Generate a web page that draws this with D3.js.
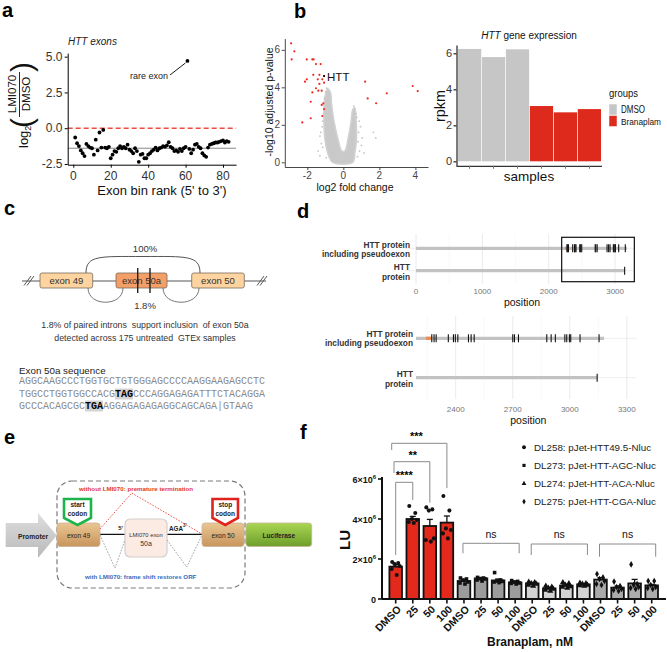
<!DOCTYPE html>
<html><head><meta charset="utf-8">
<script src="https://cdn.jsdelivr.net/npm/d3@7"></script>
<style>body{margin:0;background:#fff}svg{display:block}text{white-space:pre}</style>
</head><body><svg id="c" width="667" height="652"></svg>
<script>
// ================= DATA =================
// panel a
const exonBinLog2FC=[-0.65,-1.05,-1.25,-1.55,-1.75,-1.95,-1.1,-1.25,-1.35,-1.4,-1.85,-0.8,-1.55,-0.3,-1.35,-0.12,-1.35,-1.4,-1.3,-2.1,
-1.85,-1.6,-1.65,-1.4,-1.25,-1.4,-1.3,-1.4,-1.15,-1.5,-1.6,-1.75,-1.4,-1.6,-2.35,-1.85,-1.8,-2.1,-2.1,-1.85,
-1.75,-1.6,-1.5,-1.35,-1.55,-1.4,-1.35,-1.25,-1.3,-1.2,-0.98,-1.3,-1.4,-1.6,-1.55,-1.65,-1.45,-1.6,-1.4,-1.3,
4.7,-1.45,-1.75,-1.5,-1.15,-1.1,-1.3,-1.4,-1.75,-1.9,-2.0,-1.35,-1.15,-1.1,-1.05,-1.0,-1.0,-0.95,-0.9,-0.85,-1.0,-0.9,-0.95];
const exonXTicks=[0,20,40,60,80];
const exonYTicks=[-2.5,0,2.5,5];
const exonYTickLabels=["-2.5","0.0","2.5","5.0"];
const exonMedian=-1.4;
const rareExonLabel="rare exon";
// panel b volcano  [log2FC, -log10 padj]
const volcanoRed=[[-2.9,6.35],[-2.72,5.92],[-2.87,5.49],[-2.03,5.49],[-1.72,5.49],[-1.65,5.49],[-1.52,5.24],[-1.26,5.24],
[-1.67,4.67],[-1.33,4.67],[-1.07,4.6],[-2.03,4.43],[-2.13,4.3],[-1.42,4.43],[-1.17,4.43],[-1.33,4.18],[-1.07,4.25],
[-1.52,3.95],[-1.39,3.82],[-1.72,3.73],[-1.2,3.82],[-1.81,3.23],[-1.11,3.15],[-1.2,3.06],[-1.07,2.84],[-1.17,2.47],
[-1.81,2.35],[-2.28,2.13],[1.21,4.3],[1.35,3.41],[1.82,3.15],[2.41,3.68],[3.85,4.07],[4.13,3.8]];
const volcanoCloud=[[-0.6,0],[-0.82,0.35],[-0.97,0.9],[-1.06,1.6],[-1.08,2.3],[-1.07,3.0],[-1.0,3.6],[-0.86,3.92],[-0.72,3.75],
[-0.64,3.0],[-0.5,2.1],[-0.3,1.25],[-0.08,0.6],[0.08,0.6],[0.28,1.35],[0.42,2.1],[0.52,2.8],[0.63,2.92],[0.72,2.1],
[0.73,1.2],[0.64,0.5],[0.52,0]];
const volcanoGrey=[[-1.1,2.6],[-1.18,1.9],[-1.3,1.4],[-1.22,1.0],[-1.4,0.6],[0.85,1.6],[1.0,0.9],[1.67,1.6],[1.8,1.3],
[-0.95,0.25],[0.78,0.3],[-1.05,3.4],[-0.92,3.95],[0.58,3.0],[0.88,2.2],[-1.15,2.2],[1.15,0.5],[-1.3,0.35],[0.82,1.1],
[-1.12,3.1],[0.95,1.9],[-1.25,1.6],[0.7,2.6],[1.05,1.3],[-0.98,3.75],[0.9,0.6],[-1.15,0.8],[0.75,2.4]];
const volcanoXTicks=[-2,0,2,4];
const volcanoYTicks=[0,2,4,6];
// panel b bars
const exprSamples=["s1","s2","s3","s4","s5","s6"];
const exprGroup=["DMSO","DMSO","DMSO","Branaplam","Branaplam","Branaplam"];
const exprRpkm=[6.24,5.79,6.22,3.07,2.72,2.9];
const exprYTicks=[0,2,4,6];
const exprGroups=["DMSO","Branaplam"];
// panel c
const exonLabels=["exon 49","exon 50a","exon 50"];
const seqLines=["AGGCAAGCCCTGGTGCTGTGGGAGCCCCAAGGAAGAGCCTC","TGGCCTGGTGGCCACGTAGCCCAGGAGAGATTTCTACAGGA","GCCCACAGCGCTGAAGGAGAGAGAGGCAGCAGA|GTAAG"];
const stopMotifs=[[1,16,"TAG"],[2,11,"TGA"]];
// panel d
const proteinRows=[["HTT protein","including pseudoexon"],["HTT","protein"]];
const proteinEnds=[3180,3144];
const stopCodonsPseudo=[2274,2286,2297,2361,2388,2398,2411,2467,2481,2497,2700,2709,2730,2879,2902,2924,2974,2984,2998,3005,3054,3154];
const stopCodonsHTT=[3144];
const pseudoexonSpan=[2244,2270];
const dTopTicks=[0,1000,2000,3000];
const dBotTicks=[2400,2700,3000,3300];
const zoomBox=[2195,3290];
// panel f
const fConstructs=["DL258: pJet-HTT49.5-Nluc","DL273: pJet-HTT-AGC-Nluc","DL274: pJet-HTT-ACA-Nluc","DL275: pJet-HTT-CGA-Nluc"];
const fDoses=["DMSO","25","50","100"];
const fMeans=[[1.62e6,4.0e6,3.65e6,3.82e6],[0.9e6,1.03e6,0.93e6,0.83e6],[0.78e6,0.53e6,0.67e6,0.73e6],[0.97e6,0.57e6,0.78e6,0.68e6]];
const fSem=[[0.1e6,0.13e6,0.33e6,0.33e6],[0.07e6,0.04e6,0.07e6,0.06e6],[0.05e6,0.05e6,0.06e6,0.04e6],[0.1e6,0.08e6,0.2e6,0.05e6]];
const fPoints=[
 [[1.85e6,1.8e6,1.75e6,1.65e6,1.5e6,1.2e6],[4.65e6,4.3e6,4.0e6,3.95e6,3.85e6,3.8e6],[4.58e6,4.48e6,4.42e6,3.03e6,2.95e6,2.87e6],[5.15e6,4.42e6,3.53e6,3.45e6,3.28e6,3.03e6]],
 [[1.05e6,1.0e6,0.95e6,0.85e6,0.8e6,0.75e6],[1.08e6,1.05e6,1.02e6,1.0e6,0.95e6,0.9e6],[1.32e6,0.95e6,0.9e6,0.88e6,0.85e6,0.82e6],[0.92e6,0.88e6,0.85e6,0.8e6,0.78e6,0.75e6]],
 [[0.85e6,0.82e6,0.78e6,0.75e6,0.7e6,0.65e6],[0.65e6,0.6e6,0.55e6,0.5e6,0.45e6,0.4e6],[0.82e6,0.78e6,0.7e6,0.62e6,0.6e6,0.55e6],[0.8e6,0.78e6,0.75e6,0.7e6,0.68e6,0.65e6]],
 [[1.25e6,1.08e6,1.0e6,0.9e6,0.75e6,0.7e6],[0.87e6,0.65e6,0.6e6,0.5e6,0.45e6,0.4e6],[1.73e6,0.75e6,0.7e6,0.6e6,0.55e6,0.5e6],[0.9e6,0.9e6,0.7e6,0.6e6,0.55e6,0.5e6]]];
const fYTicks=[0,2e6,4e6,6e6];
const fSig=[["****",1],["**",2],["***",3]];
const fNs=["ns","ns","ns"];

// ================= DRAW =================
const FONT='"Liberation Sans", Arial, Helvetica, sans-serif';
const svg=d3.select("#c").attr("font-family",FONT);
svg.append("rect").attr("width",667).attr("height",652).attr("fill","#fff");
function T(g,x,y,s,o={}){const t=g.append("text").attr("x",x).attr("y",y).text(s)
 .attr("font-size",o.size||10).attr("fill",o.fill||"#000").attr("text-anchor",o.anchor||"start");
 if(o.weight)t.attr("font-weight",o.weight); if(o.style)t.attr("font-style",o.style); if(o.family)t.attr("font-family",o.family);
 if(o.len)t.attr("textLength",o.len).attr("lengthAdjust","spacingAndGlyphs"); return t;}
function sty(sel,lc,lw){sel.select(".domain").attr("stroke",lc).attr("stroke-width",lw);
 sel.selectAll(".tick line").attr("stroke",lc).attr("stroke-width",lw); sel.selectAll(".tick text").remove();}
function yLabels(g,y,ticks,xr,fmt,o){ticks.forEach((v,i)=>T(g,xr,y(v)+o.size*0.35,fmt(v,i),Object.assign({anchor:"end"},o)));}
function xLabels(g,x,ticks,yb,fmt,o){ticks.forEach(v=>T(g,x(v),yb,fmt(v),Object.assign({anchor:"middle"},o)));}
let aY=null;

// panel letters
[["a",2,17],["b",294,18],["c",4,215],["d",297,218],["e",4,444],["f",300,439]].forEach(([s,x,y])=>T(svg,x,y,s,{size:20,weight:"bold"}));

// ---------- panel a ----------
{const g=svg.append("g");
 const x=d3.scaleLinear().domain([-3,87]).range([67.7,236.1]);
 const y=d3.scaleLinear().domain([-2.55,5.25]).range([164.7,53.1]);
 aY=y;
 T(g,68,45,"HTT exons",{size:10,style:"italic",fill:"#222"});
 g.append("line").attr("x1",x.range()[0]).attr("x2",x.range()[1]).attr("y1",y(exonMedian)).attr("y2",y(exonMedian)).attr("stroke","#888").attr("stroke-width",1);
 g.append("line").attr("x1",x.range()[0]).attr("x2",x.range()[1]).attr("y1",y(0)).attr("y2",y(0)).attr("stroke","#ee4b3c").attr("stroke-width",1.6).attr("stroke-dasharray","5,3");
 g.selectAll("circle.p").data(exonBinLog2FC).join("circle").attr("cx",(d,i)=>x(i+1)).attr("cy",d=>y(d)).attr("r",1.9).attr("fill","#000");
 const ri=exonBinLog2FC.indexOf(d3.max(exonBinLog2FC));
 g.append("line").attr("x1",170).attr("y1",75).attr("x2",x(ri+1)-2).attr("y2",y(exonBinLog2FC[ri])+2).attr("stroke","#000").attr("stroke-width",0.9);
 T(g,168,78.5,rareExonLabel,{size:9,anchor:"end",fill:"#222"});
 const ax=g.append("g").attr("transform",`translate(0,${y.range()[0]})`).call(d3.axisBottom(x).tickValues(exonXTicks).tickSize(3).tickSizeOuter(0));
 sty(ax,"#000",1);
 xLabels(g,x,exonXTicks,179.5,d3.format("d"),{size:12,fill:"#333"});
 const ay=g.append("g").attr("transform",`translate(${x.range()[0]},0)`).call(d3.axisLeft(y).tickValues(exonYTicks).tickSize(3).tickSizeOuter(0));
 sty(ay,"#000",1);
 const yl=svg.append("g").attr("transform","rotate(-90)");
 const lg=T(yl,-148,28,"log",{size:13,fill:"#111"}); lg.append("tspan").attr("font-size",9).attr("dy",3).text("2");
 T(yl,-128,32,"(",{size:30,fill:"#111"});
 T(yl,-94,16,"LMI070",{size:11.5,anchor:"middle",fill:"#111"});
 yl.append("line").attr("x1",-117).attr("x2",-72).attr("y1",19.5).attr("y2",19.5).attr("stroke","#111").attr("stroke-width",0.9);
 T(yl,-94,30,"DMSO",{size:11.5,anchor:"middle",fill:"#111"});
 T(yl,-72,32,")",{size:30,fill:"#111"});
 T(g,162,195,"Exon bin rank (5' to 3')",{size:13,anchor:"middle",fill:"#111"});
}

// ---------- panel b volcano ----------
{const g=svg.append("g");
 const x=d3.scaleLinear().domain([-3.25,4.7]).range([284.8,428]);
 const y=d3.scaleLinear().domain([-0.25,6.6]).range([167,38.6]);
 g.append("path").datum(volcanoCloud).attr("d",d3.line().x(d=>x(d[0])).y(d=>y(d[1])).curve(d3.curveCatmullRomClosed)).attr("fill","#c9c9c9").attr("stroke","#d2d2d2").attr("stroke-width",1.5);
 g.selectAll("circle.g").data(volcanoGrey).join("circle").attr("cx",d=>x(d[0])).attr("cy",d=>y(d[1])).attr("r",0.9).attr("fill","#c4c4c4");
 g.selectAll("circle.r").data(volcanoRed).join("circle").attr("cx",d=>x(d[0])).attr("cy",d=>y(d[1])).attr("r",1.1).attr("fill","#ee2a1e");
 const h=volcanoRed[10];
 g.append("circle").attr("cx",x(h[0])).attr("cy",y(h[1])).attr("r",1).attr("fill","#000");
 T(g,x(h[0])+3,y(h[1])+4.5,"HTT",{size:11.5,fill:"#111"});
 const ax=g.append("g").attr("transform",`translate(0,${y.range()[0]})`).call(d3.axisBottom(x).tickValues(volcanoXTicks).tickSize(3).tickSizeOuter(0));
 sty(ax,"#333",0.9);
 xLabels(g,x,volcanoXTicks,178.5,String,{size:10,fill:"#444"});
 const ay=g.append("g").attr("transform",`translate(${x.range()[0]},0)`).call(d3.axisLeft(y).tickValues(volcanoYTicks).tickSize(3).tickSizeOuter(0));
 sty(ay,"#333",0.9);
 yLabels(g,y,volcanoYTicks,280,String,{size:10,fill:"#444"});
 T(g,355,191,"log2 fold change",{size:10.5,anchor:"middle",fill:"#111"});
 T(g.append("g").attr("transform","rotate(-90)"),-102,273,"-log10 adjusted p-value",{size:10.5,anchor:"middle",fill:"#111"});
}

// ---------- panel b bars ----------
{const g=svg.append("g");
 const x=d3.scaleBand().domain(exprSamples).range([458,601]).paddingInner(0.03);
 const y=d3.scaleLinear().domain([-0.25,6.46]).range([165.8,45]);
 const col=d3.scaleOrdinal().domain(exprGroups).range(["#c6c6c6","#dd2a1c"]);
 g.selectAll("rect.b").data(exprRpkm).join("rect").attr("x",(d,i)=>x(exprSamples[i])).attr("width",x.bandwidth())
  .attr("y",d=>y(d)).attr("height",d=>y(0)-y(d)).attr("fill",(d,i)=>col(exprGroup[i]));
 const ax=g.append("g").attr("transform",`translate(0,${y.range()[0]})`).call(d3.axisBottom(x).tickSize(3).tickSizeOuter(0));
 sty(ax,"#333",1);
 ax.select(".domain").attr("d","M456.5,0.5H602").attr("stroke-width",1.3);
 ax.selectAll(".tick line").attr("stroke","#777");
 const ay=g.append("g").attr("transform","translate(456.5,0)").call(d3.axisLeft(y).tickValues(exprYTicks).tickSize(3).tickSizeOuter(0));
 sty(ay,"#333",1.3);
 yLabels(g,y,exprYTicks,452,String,{size:11,fill:"#333"});
 const t=T(g,529,39,"",{size:10,anchor:"middle",fill:"#111"});
 t.append("tspan").attr("font-style","italic").text("HTT"); t.append("tspan").text(" gene expression");
 T(g,529,181,"samples",{size:13.5,anchor:"middle",fill:"#111"});
 T(g.append("g").attr("transform","rotate(-90)"),-106,445,"rpkm",{size:14.5,anchor:"middle",fill:"#111"});
 T(g,609,97,"groups",{size:10.5,fill:"#111",len:29});
 exprGroups.forEach((n,i)=>{g.append("rect").attr("x",609).attr("y",104+i*11.5).attr("width",8).attr("height",11).attr("fill",col(n)).attr("stroke","#fff").attr("stroke-width",0.5);
  T(g,621,113+i*11.5,n,{size:i?9:10.5,fill:"#111",len:i?40:24});});
}

// ---------- panel c ----------
{const g=svg.append("g"); const st="#555";
 g.append("line").attr("x1",22).attr("x2",266).attr("y1",281).attr("y2",281).attr("stroke",st).attr("stroke-width",1);
 [[24,31],[27,34],[257,264],[260,267]].forEach(([a,b])=>g.append("line").attr("x1",a).attr("y1",285.5).attr("x2",b).attr("y2",276).attr("stroke",st).attr("stroke-width",1));
 g.append("path").attr("d","M86,273 C86,255 100,256.5 143,256.5 C186,256.5 200,255 200,273").attr("fill","none").attr("stroke",st).attr("stroke-width",1);
 g.append("path").attr("d","M88,288 C88,307 123,307 123,288").attr("fill","none").attr("stroke","#777").attr("stroke-width",1);
 g.append("path").attr("d","M163,288 C163,307 199,307 199,288").attr("fill","none").attr("stroke","#777").attr("stroke-width",1);
 const ex=[[40,52.7,"#fdd49f"],[116,51,"#f49f67"],[191.7,52.6,"#fdd49f"]];
 ex.forEach(([x0,w,f],i)=>{g.append("rect").attr("x",x0).attr("y",273).attr("width",w).attr("height",15).attr("rx",2).attr("fill",f).attr("stroke","#7a6a5a").attr("stroke-width",0.8);
  T(g,x0+w/2,284,exonLabels[i],{size:9.5,anchor:"middle",fill:"#333"});});
 [137.7,150].forEach(xx=>g.append("line").attr("x1",xx).attr("x2",xx).attr("y1",268).attr("y2",293).attr("stroke","#222").attr("stroke-width",1.4));
 T(g,145,252,"100%",{size:9.5,anchor:"middle",fill:"#333"});
 T(g,145,309,"1.8%",{size:9.5,anchor:"middle",fill:"#333"});
 T(g,145,328,"1.8% of paired introns  support inclusion  of exon 50a",{size:8.8,anchor:"middle",fill:"#333"});
 T(g,145,340.5,"detected across 175 untreated  GTEx samples",{size:8.8,anchor:"middle",fill:"#333"});
 T(g,19,374,"Exon 50a sequence",{size:9.8,fill:"#222"});
 const cw=6.0, base=[384,397,409];
 stopMotifs.forEach(([li,ci,s])=>g.append("rect").attr("x",19+ci*cw).attr("y",base[li]-8.5).attr("width",cw*3).attr("height",11).attr("fill","#d4d4d4"));
 seqLines.forEach((s,li)=>{const t=T(g,19,base[li],"",{size:10,fill:"#8a8a8a",family:'"Liberation Mono","Courier New",monospace'});
  const m=stopMotifs.find(d=>d[0]===li);
  if(m){t.append("tspan").text(s.slice(0,m[1])); t.append("tspan").attr("fill","#000").attr("font-weight","bold").text(m[2]); t.append("tspan").text(s.slice(m[1]+3));}
  else t.text(s);});
}

// ---------- panel d ----------
function protPanel(xs,rowY,gridY,ticks,minor,tickY,posY,labX,labY){
 const g=svg.append("g");
 minor.forEach(v=>g.append("line").attr("x1",xs(v)).attr("x2",xs(v)).attr("y1",gridY[0]).attr("y2",gridY[1]).attr("stroke","#f3f3f3").attr("stroke-width",0.6));
 ticks.forEach(v=>g.append("line").attr("x1",xs(v)).attr("x2",xs(v)).attr("y1",gridY[0]).attr("y2",gridY[1]).attr("stroke","#e8e8e8").attr("stroke-width",0.9));
 rowY.forEach(yy=>g.append("line").attr("x1",xs.range()[0]).attr("x2",xs.range()[1]).attr("y1",yy).attr("y2",yy).attr("stroke","#ececec").attr("stroke-width",0.9));
 const x0=Math.max(0,xs.domain()[0]);
 proteinEnds.forEach((e,i)=>g.append("line").attr("x1",xs(x0)).attr("x2",xs(e)).attr("y1",rowY[i]).attr("y2",rowY[i]).attr("stroke","#c2c2c2").attr("stroke-width",3.2));
 g.append("line").attr("x1",xs(pseudoexonSpan[0])).attr("x2",xs(pseudoexonSpan[1])).attr("y1",rowY[0]).attr("y2",rowY[0]).attr("stroke","#f08a4b").attr("stroke-width",3.2);
 [stopCodonsPseudo,stopCodonsHTT].forEach((arr,i)=>arr.forEach(v=>g.append("line").attr("x1",xs(v)).attr("x2",xs(v)).attr("y1",rowY[i]-4).attr("y2",rowY[i]+4).attr("stroke","#111").attr("stroke-width",1.1)));
 ticks.forEach(v=>T(g,xs(v),tickY,String(v),{size:8,anchor:"middle",fill:"#777"}));
 T(g,(xs.range()[0]+xs.range()[1])/2+2,posY,"position",{size:10.5,anchor:"middle",fill:"#111"});
 proteinRows.forEach((r,i)=>{T(g,labX,labY[i][0],r[0],{size:8.3,anchor:"end",weight:"bold",fill:"#333"});T(g,labX,labY[i][1],r[1],{size:8.3,anchor:"end",weight:"bold",fill:"#333"});});
 return g;}
{const xs=d3.scaleLinear().domain([-166,3300]).range([405,635]);
 const g=protPanel(xs,[248.3,270.7],[234,284],dTopTicks,[500,1500,2500],294,306,410,[[247.5,256.5],[269.5,279.5]]);
 g.append("rect").attr("x",xs(zoomBox[0])).attr("y",237.3).attr("width",xs(zoomBox[1])-xs(zoomBox[0])).attr("height",44.4).attr("fill","none").attr("stroke","#111").attr("stroke-width",1.2);
}
{const xs=d3.scaleLinear().domain([2191,3352]).range([416,636.7]);
 protPanel(xs,[338.3,377.7],[316,399],dBotTicks,[2250,2550,2850,3150],411.5,424,413,[[337,346],[376.5,387]]);
}

// ---------- panel e ----------
{const g=svg.append("g"); const defs=svg.append("defs");
 const gr=(id,a,b)=>{const lg=defs.append("linearGradient").attr("id",id).attr("x1",0).attr("y1",0).attr("x2",0).attr("y2",1);lg.append("stop").attr("offset",0).attr("stop-color",a);lg.append("stop").attr("offset",1).attr("stop-color",b);};
 gr("tan","#eac693","#c8955c"); gr("grn","#a9d652","#6e9e2c"); gr("gry","#dedede","#b9b9b9");
 g.append("rect").attr("x",57).attr("y",481).attr("width",188).attr("height",107).attr("rx",15).attr("fill","none").attr("stroke","#7a7a7a").attr("stroke-width",1.2).attr("stroke-dasharray","5,3");
 g.append("polygon").attr("points","5.7,523 38,523 38,513 56.7,535.5 38,558 38,547 5.7,547").attr("fill","url(#gry)");
 T(g,33,539,"Promoter",{size:6.8,anchor:"middle",weight:"bold",fill:"#222"});
 const box=(x0,w,fill,label,bold)=>{g.append("rect").attr("x",x0).attr("y",523).attr("width",w).attr("height",23.5).attr("rx",3).attr("fill",fill).attr("stroke","#c9b49a").attr("stroke-width",0.8);
  T(g,x0+w/2,537.5,label,{size:6.5,anchor:"middle",fill:"#222",weight:bold?"bold":null});};
 g.append("line").attr("x1",100).attr("x2",202).attr("y1",534.3).attr("y2",534.3).attr("stroke","#111").attr("stroke-width",1.3);
 box(57,43,"url(#tan)","exon 49"); box(202,42,"url(#tan)","exon 50"); box(246,65.7,"url(#grn)","Luciferase",true);
 g.append("rect").attr("x",125).attr("y",519).attr("width",42).attr("height",38).attr("rx",5).attr("fill","#fcebe3").attr("stroke","#cfcfcf").attr("stroke-width",1.2);
 T(g,146,536.5,"LMI070 exon",{size:5.8,anchor:"middle",fill:"#333"});
 T(g,146,546,"50a",{size:7,anchor:"middle",fill:"#333"});
 T(g,123,530,"5'",{size:6,anchor:"end",weight:"bold",fill:"#222"});
 const aga=T(g,169,530.5,"AGA",{size:6.3,weight:"bold",fill:"#222"}); aga.append("tspan").attr("dy",-3.5).attr("font-size",4.5).text("3'");
 const marker=(x0,x1,col,l1,l2)=>{const xm=(x0+x1)/2;g.append("polygon").attr("points",`${x0},499 ${x1},499 ${x1},518 ${xm},525 ${x0},518`).attr("fill","#fff").attr("stroke",col).attr("stroke-width",2.6).attr("stroke-linejoin","miter");
  T(g,xm,507,l1,{size:6.5,anchor:"middle",weight:"bold",fill:"#222"});T(g,xm,515.5,l2,{size:6.5,anchor:"middle",weight:"bold",fill:"#222"});};
 marker(64,91,"#1db44a","start","codon"); marker(212.5,238,"#e0231c","stop","codon");
 g.append("polyline").attr("points","100,529 131.7,493 202,534").attr("fill","none").attr("stroke","#e8413a").attr("stroke-width",0.9).attr("stroke-dasharray","1.6,1.4");
 g.append("polyline").attr("points","100,535 115,568 125,540").attr("fill","none").attr("stroke","#999").attr("stroke-width",0.9).attr("stroke-dasharray","1.6,1.4");
 g.append("polyline").attr("points","167,540 186.7,567 202,535").attr("fill","none").attr("stroke","#999").attr("stroke-width",0.9).attr("stroke-dasharray","1.6,1.4");
 T(g,79,490.5,"without LMI070: premature termination",{size:6.2,weight:"bold",fill:"#e5352c"});
 T(g,85,579,"with LMI070: frame shift restores ORF",{size:6.2,weight:"bold",fill:"#2f6dc2"});
}

// ---------- panel f ----------
{const g=svg.append("g");
 const cats=[]; fConstructs.forEach((c,ci)=>fDoses.forEach((d,di)=>cats.push(ci+"-"+di)));
 const x=d3.scalePoint().domain(cats).range([395.7,651.7]);
 const y=d3.scaleLinear().domain([0,6e6]).range([599,479]);
 const fill=["#e2291c","#9c9c9c","#d3d3d3","#ababab"];
 const syms=[d3.symbolCircle,d3.symbolSquare,d3.symbolTriangle,d3.symbolDiamond];
 const bw=12.6, off=[-3.5,2.5,-1,4,-4,1];
 fConstructs.forEach((c,ci)=>fDoses.forEach((d,di)=>{const k=ci+"-"+di, cx=x(k), m=fMeans[ci][di], s=fSem[ci][di];
  g.append("rect").attr("x",cx-bw/2).attr("y",y(m)).attr("width",bw).attr("height",y(0)-y(m)).attr("fill",fill[ci]).attr("stroke","#111").attr("stroke-width",1.8);
  g.append("line").attr("x1",cx).attr("x2",cx).attr("y1",y(m)).attr("y2",y(m+s)).attr("stroke","#111").attr("stroke-width",1.3);
  g.append("line").attr("x1",cx-3).attr("x2",cx+3).attr("y1",y(m+s)).attr("y2",y(m+s)).attr("stroke","#111").attr("stroke-width",1.3);
  fPoints[ci][di].forEach((v,pi)=>g.append("path").attr("d",d3.symbol(syms[ci],ci===2?16:13)()).attr("transform",`translate(${cx+off[pi]},${y(v)})`).attr("fill","#111"));
 }));
 g.append("line").attr("x1",382).attr("x2",666).attr("y1",599).attr("y2",599).attr("stroke","#111").attr("stroke-width",2);
 g.append("line").attr("x1",382).attr("x2",382).attr("y1",599).attr("y2",477).attr("stroke","#111").attr("stroke-width",2);
 cats.forEach(k=>g.append("line").attr("x1",x(k)).attr("x2",x(k)).attr("y1",599).attr("y2",603.5).attr("stroke","#111").attr("stroke-width",1.6));
 fYTicks.forEach(v=>{g.append("line").attr("x1",378).attr("x2",382).attr("y1",y(v)).attr("y2",y(v)).attr("stroke","#111").attr("stroke-width",1.6);
  const t=T(g,376,y(v)+3.5,"",{size:9,anchor:"end",fill:"#111",weight:"bold"});
  if(v===0)t.text("0"); else {t.append("tspan").text((v/1e6)+"×10"); t.append("tspan").attr("dy",-4).attr("font-size",6).text("6");}});
 cats.forEach((k,i)=>T(g.append("g").attr("transform",`translate(${x(k)+6},${610}) rotate(-45)`),0,0,fDoses[i%4],{size:10.5,anchor:"end",weight:"bold",fill:"#111"}));
 T(g,530,646,"Branaplam, nM",{size:12,anchor:"middle",weight:"bold",fill:"#111"});
 T(g.append("g").attr("transform","rotate(-90)"),-540,350,"LU",{size:15,anchor:"middle",weight:"bold",fill:"#111"});
 const br=(x1,x2,yh,y1b,y2b)=>g.append("path").attr("d",`M${x1},${y1b}V${yh}H${x2}V${y2b}`).attr("fill","none").attr("stroke","#8a8a8a").attr("stroke-width",1);
 const k0=x("0-0");
 br(k0,x("0-1"),482.3,555,500); br(k0-1.7,x("0-2"),461.7,473,502.7); br(k0-4,x("0-3"),443.3,450,488);
 T(g,(k0+x("0-1"))/2,479,fSig[0][0],{size:11,anchor:"middle",weight:"bold"});
 T(g,(k0+x("0-2"))/2,458.5,fSig[1][0],{size:11,anchor:"middle",weight:"bold"});
 T(g,(k0+x("0-3"))/2-5,440,fSig[2][0],{size:11,anchor:"middle",weight:"bold"});
 [[1,543.3,553.3],[2,544,555],[3,544,556.7]].forEach(([ci,yh,yb],i)=>{const a=x(ci+"-0")-1,b=x(ci+"-3")+4;
  br(a,b,yh,yb,yb); T(g,(a+b)/2,538,fNs[i],{size:10.5,anchor:"middle",fill:"#111"});});
 fConstructs.forEach((c,i)=>{const yy=447.3+i*18.1;
  g.append("path").attr("d",d3.symbol(syms[i],i===0?12:10)()).attr("transform",`translate(524,${yy})`).attr("fill","#111");
  T(g,534,yy+3.5,c,{size:9.8,fill:"#222"});});
}

// panel a y tick labels, drawn last (top of stacking order)
{const yt=svg.append("g");
 exonYTicks.forEach((v,i)=>yt.append("text").attr("x",62.5).attr("y",aY(v)+4.2).attr("text-anchor","end")
  .attr("style","fill:#333;font-size:12px").text(exonYTickLabels[i]));
}
</script></body></html>
